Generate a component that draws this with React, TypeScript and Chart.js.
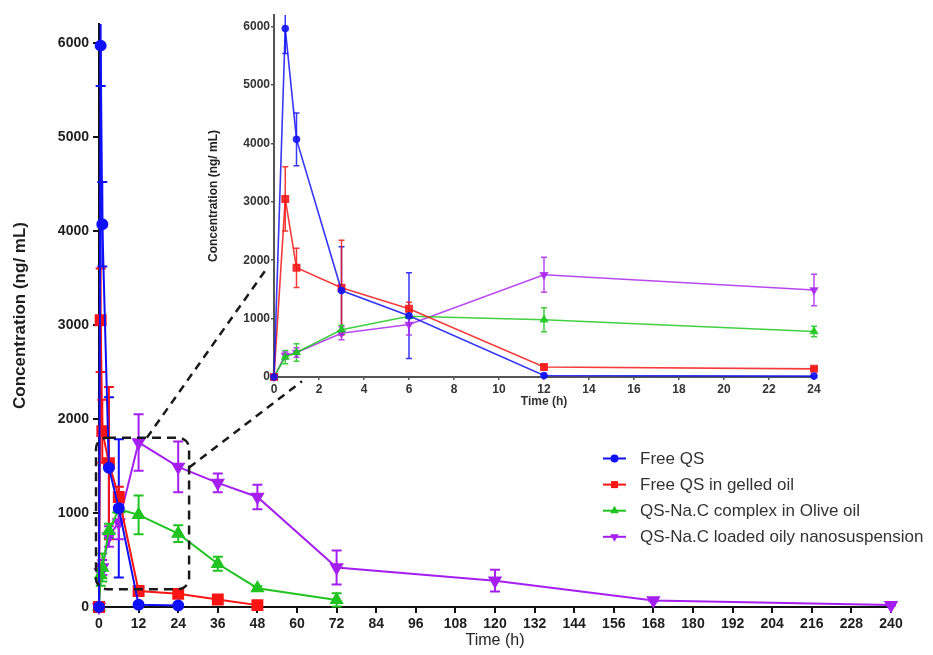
import { useEffect, useRef } from 'react';
import { Chart, registerables } from 'chart.js';

Chart.register(...registerables);

// ---------------- data ----------------
const seriesNames = [
  'Free QS',
  'Free QS in gelled oil',
  'QS-Na.C complex in Olive oil',
  'QS-Na.C loaded oily nanosuspension',
];

const freeQSTime = [0, 0.5, 1, 3, 6, 12, 24];
const freeQSMean = [0, 5970, 4070, 1480, 1050, 25, 15];
const freeQSSd = [0, 430, 450, 750, 735, 20, 10];

const gelledTime = [0, 0.5, 1, 3, 6, 12, 24, 36, 48];
const gelledMean = [0, 3050, 1870, 1530, 1170, 170, 140, 80, 20];
const gelledSd = [0, 550, 335, 810, 110, 40, 20, 20, 10];

const oliveTime = [0, 0.5, 1, 3, 6, 12, 24, 36, 48, 72];
const oliveMean = [0, 340, 420, 810, 1040, 980, 780, 460, 200, 75];
const oliveSd = [0, 115, 150, 75, 40, 205, 90, 75, 20, 70];

const nanoTime = [0, 0.5, 1, 3, 6, 12, 24, 36, 48, 72, 120, 168, 240];
const nanoMean = [0, 370, 420, 750, 900, 1750, 1490, 1320, 1170, 420, 280, 70, 20];
const nanoSd = [0, 60, 80, 110, 180, 300, 270, 100, 130, 180, 115, 10, 5];

const mainXTicks = [0, 12, 24, 36, 48, 60, 72, 84, 96, 108, 120, 132, 144, 156, 168, 180, 192, 204, 216, 228, 240];
const insetXTicks = [0, 2, 4, 6, 8, 10, 12, 14, 16, 18, 20, 22, 24];
const yTicks = [0, 1000, 2000, 3000, 4000, 5000, 6000];
const yMax = 6200;

// ---------------- styling ----------------
const colors = ['#1010f8', '#fa1414', '#20c420', '#a41ff0'];
const insetColors = ['rgba(20,20,245,0.85)', 'rgba(245,25,25,0.85)', 'rgba(30,200,30,0.85)', 'rgba(170,40,240,0.85)'];
const styles = ['circle', 'rect', 'triangle', 'triangle'];
const rotations = [0, 0, 0, 180];
const FONT = '"Liberation Sans", Arial, Helvetica, sans-serif';

type Series = { t: number[]; m: number[]; s: number[] };
const series: Series[] = [
  { t: freeQSTime, m: freeQSMean, s: freeQSSd },
  { t: gelledTime, m: gelledMean, s: gelledSd },
  { t: oliveTime, m: oliveMean, s: oliveSd },
  { t: nanoTime, m: nanoMean, s: nanoSd },
];

const errorBarPlugin = {
  id: 'errorBars',
  beforeDatasetsDraw(chart: any, _args: any, opts: any) {
    const { ctx, chartArea, scales } = chart;
    ctx.save();
    ctx.beginPath();
    ctx.rect(chartArea.left - 20, chartArea.top, chartArea.right - chartArea.left + 40, chartArea.bottom - chartArea.top + 20);
    ctx.clip();
    chart.data.datasets.forEach((ds: any, i: number) => {
      const meta = chart.getDatasetMeta(i);
      const sd = ds.sd as number[];
      if (!sd) return;
      ctx.strokeStyle = ds.borderColor;
      ctx.lineWidth = opts.width;
      meta.data.forEach((el: any, j: number) => {
        const s = sd[j];
        if (!s) return;
        const v = ds.data[j].y;
        const x = el.x;
        const yT = scales.y.getPixelForValue(v + s);
        const yB = scales.y.getPixelForValue(Math.max(v - s, 0));
        ctx.beginPath();
        ctx.moveTo(x, yT);
        ctx.lineTo(x, yB);
        ctx.moveTo(x - opts.cap, yT);
        ctx.lineTo(x + opts.cap, yT);
        ctx.moveTo(x - opts.cap, yB);
        ctx.lineTo(x + opts.cap, yB);
        ctx.stroke();
      });
    });
    ctx.restore();
  },
};

function drawMarker(ctx: CanvasRenderingContext2D, style: string, rot: number, x: number, y: number, r: number) {
  ctx.beginPath();
  if (style === 'circle') {
    ctx.arc(x, y, r, 0, Math.PI * 2);
  } else if (style === 'rect') {
    const h = r * Math.SQRT1_2;
    ctx.rect(x - h, y - h, 2 * h, 2 * h);
  } else {
    let a = (rot * Math.PI) / 180;
    ctx.moveTo(x + Math.sin(a) * r, y - Math.cos(a) * r);
    a += (2 * Math.PI) / 3;
    ctx.lineTo(x + Math.sin(a) * r, y - Math.cos(a) * r);
    a += (2 * Math.PI) / 3;
    ctx.lineTo(x + Math.sin(a) * r, y - Math.cos(a) * r);
    ctx.closePath();
  }
  ctx.fill();
}

// zoom box and connectors, in main-chart data units
const zoomBox = { x0: -0.9, x1: 27.3, y0: 190, y1: 1800 };
const connectors = [
  { x0: 14.5, y0: 1800, x1: 51.2, y1: 3618 },
  { x0: 27.3, y0: 1483, x1: 61.5, y1: 2401 },
];

const annotationPlugin = {
  id: 'zoomAnnotation',
  afterDraw(chart: any) {
    const { ctx, scales } = chart;
    const X = (v: number) => scales.x.getPixelForValue(v);
    const Y = (v: number) => scales.y.getPixelForValue(v);
    ctx.save();
    ctx.strokeStyle = '#1a1a1a';
    ctx.lineWidth = 2.5;
    ctx.setLineDash([9, 6]);
    const l = X(zoomBox.x0), r = X(zoomBox.x1), t = Y(zoomBox.y1), b = Y(zoomBox.y0);
    ctx.beginPath();
    (ctx as any).roundRect(l, t, r - l, b - t, 11);
    ctx.stroke();
    ctx.setLineDash([8, 6]);
    connectors.forEach((c) => {
      ctx.beginPath();
      ctx.moveTo(X(c.x0), Y(c.y0));
      ctx.lineTo(X(c.x1), Y(c.y1));
      ctx.stroke();
    });
    ctx.restore();

    // legend
    ctx.save();
    const lx = 603, ly0 = 458.5, dy = 26.1;
    seriesNames.forEach((name, i) => {
      const y = ly0 + dy * i;
      ctx.strokeStyle = colors[i];
      ctx.fillStyle = colors[i];
      ctx.lineWidth = 2;
      ctx.beginPath();
      ctx.moveTo(lx, y);
      ctx.lineTo(lx + 23, y);
      ctx.stroke();
      drawMarker(ctx, styles[i], rotations[i], lx + 11.5, y, styles[i] === 'circle' ? 4 : 5);
      ctx.fillStyle = '#333';
      ctx.font = `17px ${FONT}`;
      ctx.textBaseline = 'middle';
      ctx.textAlign = 'left';
      ctx.fillText(name, 640, y + 1);
    });
    ctx.restore();
  },
};

function makeDatasets(inset: boolean) {
  const insetMax = insetXTicks[insetXTicks.length - 1];
  return series.map((s, i) => {
    const idx = s.t.map((_, j) => j).filter((j) => !inset || s.t[j] <= insetMax);
    const col = inset ? insetColors[i] : colors[i];
    const baseR = inset ? [3, 4.5, 3.8, 3.8] : [5, 7, 6.3, 6.3];
    return {
      label: seriesNames[i],
      data: idx.map((j) => ({ x: s.t[j], y: s.m[j] })),
      sd: idx.map((j) => s.s[j]),
      borderColor: col,
      backgroundColor: col,
      pointBackgroundColor: col,
      pointBorderColor: col,
      pointStyle: styles[i],
      rotation: rotations[i],
      pointRotation: rotations[i],
      pointRadius: baseR[i],
      borderWidth: inset ? 1.6 : 2,
      tension: 0,
      clip: false as any,
    };
  });
}

const setTicks = (vals: number[]) => (axis: any) => {
  axis.ticks = vals.map((v) => ({ value: v }));
};
const plain = (v: any) => String(v);

export default function App() {
  const mainRef = useRef<HTMLCanvasElement>(null);
  const insetRef = useRef<HTMLCanvasElement>(null);

  useEffect(() => {
    const main = new Chart(mainRef.current!, {
      type: 'line',
      data: { datasets: makeDatasets(false) as any },
      plugins: [errorBarPlugin, annotationPlugin],
      options: {
        animation: false,
        responsive: false,
        events: [],
        layout: { padding: { left: 0, top: 24, right: 42, bottom: 0 } },
        plugins: {
          legend: { display: false },
          tooltip: { enabled: false },
          errorBars: { cap: 5, width: 2 },
        } as any,
        scales: {
          x: {
            type: 'linear',
            min: mainXTicks[0],
            max: mainXTicks[mainXTicks.length - 1],
            afterFit: (s: any) => { s.height = 48; },
            afterBuildTicks: setTicks(mainXTicks),
            ticks: { callback: plain, autoSkip: false, maxRotation: 0, padding: 3, color: '#1e1e1e', font: { family: FONT, size: 14, weight: 'bold' } },
            grid: { drawOnChartArea: false, drawTicks: true, tickLength: 6, color: '#111', lineWidth: 2 },
            border: { display: true, color: '#111', width: 2 },
            title: { display: true, text: 'Time (h)', color: '#222', font: { family: FONT, size: 16 }, padding: { top: 0, bottom: 5 } },
          },
          y: {
            type: 'linear',
            min: 0,
            max: yMax,
            afterFit: (s: any) => { s.width = 99; },
            afterBuildTicks: setTicks(yTicks),
            ticks: { callback: plain, padding: 4, color: '#1e1e1e', font: { family: FONT, size: 14, weight: 'bold' } },
            grid: { drawOnChartArea: false, drawTicks: true, tickLength: 6, color: '#111', lineWidth: 2 },
            border: { display: true, color: '#111', width: 2 },
            title: { display: true, text: 'Concentration (ng/ mL)', color: '#1e1e1e', font: { family: FONT, size: 17, weight: 'bold' }, padding: { top: 10, bottom: 0 } },
          },
        },
      } as any,
    });

    const inset = new Chart(insetRef.current!, {
      type: 'line',
      data: { datasets: makeDatasets(true) as any },
      plugins: [errorBarPlugin],
      options: {
        animation: false,
        responsive: false,
        events: [],
        layout: { padding: { left: 0, top: 15, right: 26, bottom: 0 } },
        plugins: {
          legend: { display: false },
          tooltip: { enabled: false },
          errorBars: { cap: 3, width: 1.5 },
        } as any,
        scales: {
          x: {
            type: 'linear',
            min: insetXTicks[0],
            max: insetXTicks[insetXTicks.length - 1],
            afterFit: (s: any) => { s.height = 38; },
            afterBuildTicks: setTicks(insetXTicks),
            ticks: { callback: plain, autoSkip: false, maxRotation: 0, padding: 2, color: '#333', font: { family: FONT, size: 12, weight: 'bold' } },
            grid: { drawOnChartArea: false, drawTicks: true, tickLength: 3, color: '#555', lineWidth: 1.5 },
            border: { display: true, color: '#555', width: 2 },
            title: { display: true, text: 'Time (h)', color: '#333', font: { family: FONT, size: 12, weight: 'bold' }, padding: { top: 0, bottom: 6 } },
          },
          y: {
            type: 'linear',
            min: 0,
            max: yMax,
            afterFit: (s: any) => { s.width = 74; },
            afterBuildTicks: setTicks(yTicks),
            ticks: { callback: plain, padding: 1, color: '#333', font: { family: FONT, size: 12, weight: 'bold' } },
            grid: { drawOnChartArea: false, drawTicks: true, tickLength: 3, color: '#555', lineWidth: 1.5 },
            border: { display: true, color: '#555', width: 2 },
            title: { display: true, text: 'Concentration (ng/ mL)', color: '#222', font: { family: FONT, size: 12, weight: 'bold' }, padding: { top: 6, bottom: 0 } },
          },
        },
      } as any,
    });

    return () => {
      main.destroy();
      inset.destroy();
    };
  }, []);

  return (
    <div>
      <canvas ref={mainRef} width={933} height={655} style={{ position: 'absolute', left: 0, top: 0, width: 933, height: 655 }} />
      <canvas ref={insetRef} width={640} height={415} style={{ position: 'absolute', left: 200, top: 0, width: 640, height: 415 }} />
    </div>
  );
}
